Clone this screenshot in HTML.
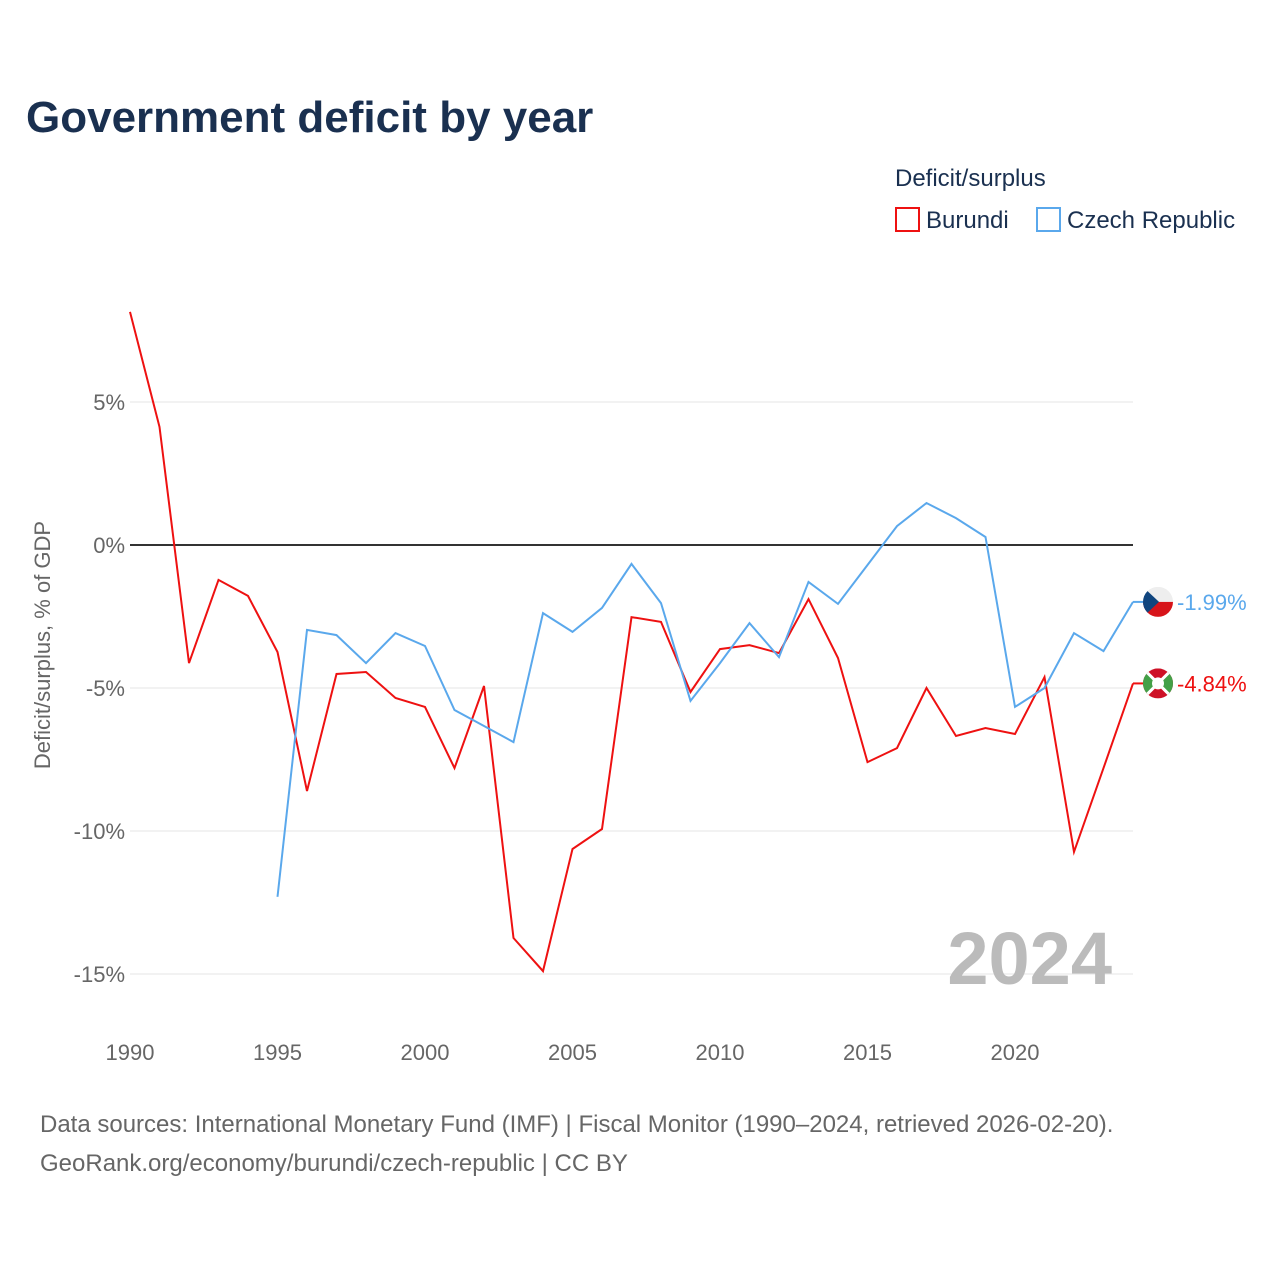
<!DOCTYPE html>
<html><head><meta charset="utf-8">
<style>
body{margin:0;background:#fff;font-family:"Liberation Sans",sans-serif;}
svg text{font-family:"Liberation Sans",sans-serif;}
</style></head>
<body>
<svg id="chart" width="1280" height="1280" viewBox="0 0 1280 1280">
<text x="26" y="132" font-size="44" font-weight="bold" fill="#1a3050">Government deficit by year</text>
<text x="895" y="186" font-size="24" fill="#1a3050">Deficit/surplus</text>
<g>
<rect x="896" y="208" width="23" height="23" fill="none" stroke="#ee1111" stroke-width="2"/>
<text x="926" y="228" font-size="24" fill="#1a3050">Burundi</text></g>
<g>
<rect x="1037" y="208" width="23" height="23" fill="none" stroke="#5aa8ec" stroke-width="2"/>
<text x="1067" y="228" font-size="24" fill="#1a3050">Czech Republic</text></g>
<defs id="defs"></defs>
<g id="grid"></g>
<g id="xaxis"></g>
<text transform="translate(50,645) rotate(-90)" text-anchor="middle" font-size="22" fill="#666">Deficit/surplus, % of GDP</text>
<text x="1112" y="984" text-anchor="end" font-size="74" font-weight="bold" fill="#bbbbbb">2024</text>
<g id="series"></g>
<text x="40" y="1132" font-size="24" fill="#666">Data sources: International Monetary Fund (IMF) | Fiscal Monitor (1990–2024, retrieved 2026-02-20).</text>
<text x="40" y="1171" font-size="24" fill="#666">GeoRank.org/economy/burundi/czech-republic | CC BY</text>
</svg>
<script>
const years=[1990,1991,1992,1993,1994,1995,1996,1997,1998,1999,2000,2001,2002,2003,2004,2005,2006,2007,2008,2009,2010,2011,2012,2013,2014,2015,2016,2017,2018,2019,2020,2021,2022,2023,2024];
const burundi=[8.15,4.13,-4.13,-1.22,-1.78,-3.74,-8.6,-4.51,-4.44,-5.35,-5.66,-7.8,-4.93,-13.74,-14.9,-10.63,-9.93,-2.52,-2.69,-5.14,-3.64,-3.5,-3.78,-1.89,-3.95,-7.59,-7.1,-5.0,-6.68,-6.4,-6.61,-4.62,-10.73,-7.8,-4.84];
const czech=[null,null,null,null,null,-12.3,-2.97,-3.15,-4.13,-3.08,-3.53,-5.77,-6.33,-6.89,-2.38,-3.04,-2.2,-0.66,-2.03,-5.45,-4.13,-2.73,-3.92,-1.29,-2.06,-0.7,0.66,1.47,0.94,0.28,-5.66,-5.0,-3.08,-3.71,-1.99];
const yTicks=[5,0,-5,-10,-15];
const xTicks=[1990,1995,2000,2005,2010,2015,2020];
const NS="http://www.w3.org/2000/svg";
const X=y=>130+(y-1990)*(1133-130)/34;
const Y=v=>545-v*28.6;
function mk(t,a,p){const e=document.createElementNS(NS,t);for(const k in a)e.setAttribute(k,a[k]);p.appendChild(e);return e;}
const grid=document.getElementById('grid');
yTicks.forEach(v=>{
 const l=mk('line',{x1:130,x2:1133,y1:Y(v),y2:Y(v),stroke:v===0?'#333':'#e4e4e4','stroke-width':v===0?2:1},grid);
 
 
 const t=mk('text',{x:125,y:Y(v)+8,'text-anchor':'end','font-size':22,fill:'#666'},grid);
 t.textContent=v+'%';
 
 
});
const xa=document.getElementById('xaxis');
xTicks.forEach(v=>{
 const t=mk('text',{x:X(v),y:1060,'text-anchor':'middle','font-size':22,fill:'#666'},xa);
 t.textContent=v;
 
 
});
const sg=document.getElementById('series');
const defs=document.getElementById('defs');
function draw(vals,color,name,isCz){
 let d='';vals.forEach((v,i)=>{if(v===null)return;d+=(d?'L':'M')+X(years[i]).toFixed(1)+','+Y(v).toFixed(1);});
 const p=mk('path',{d:d,fill:'none',stroke:color,'stroke-width':2},sg);
 
 
 const last=vals[vals.length-1],cx=1158,cy=Y(last);
 mk('line',{x1:X(2024),x2:cx-14,y1:cy,y2:cy,stroke:color,'stroke-width':2},sg);
 const cp=mk('clipPath',{id:'clip-'+name},defs);
 mk('circle',{cx:cx,cy:cy,r:15},cp);
 const g=mk('g',{'clip-path':'url(#clip-'+name+')'},sg);
 
 
 if(isCz){
  mk('rect',{x:cx-15,y:cy-15,width:30,height:15,fill:'#eeeeee'},g);
  mk('rect',{x:cx-15,y:cy,width:30,height:15,fill:'#d7141a'},g);
  mk('path',{d:`M${cx-15},${cy-15} L${cx+1},${cy} L${cx-15},${cy+15} Z`,fill:'#11457e'},g);
 }else{
  mk('rect',{x:cx-15,y:cy-15,width:30,height:30,fill:'#ce1126'},g);
  mk('path',{d:`M${cx-15},${cy-15} L${cx},${cy} L${cx-15},${cy+15} Z`,fill:'#43a047'},g);
  mk('path',{d:`M${cx+15},${cy-15} L${cx},${cy} L${cx+15},${cy+15} Z`,fill:'#43a047'},g);
  mk('path',{d:`M${cx-15},${cy-15} L${cx+15},${cy+15} M${cx+15},${cy-15} L${cx-15},${cy+15}`,stroke:'#fff','stroke-width':3},g);
  mk('circle',{cx:cx,cy:cy,r:6,fill:'#fff'},g);
 }
 const t=mk('text',{x:1177,y:cy+8,'font-size':22,fill:color},sg);
 t.textContent=last.toFixed(2)+'%';
 
 
}
draw(burundi,'#ee1111','burundi',false);
draw(czech,'#5aa8ec','czech-republic',true);
</script>
</body></html>
